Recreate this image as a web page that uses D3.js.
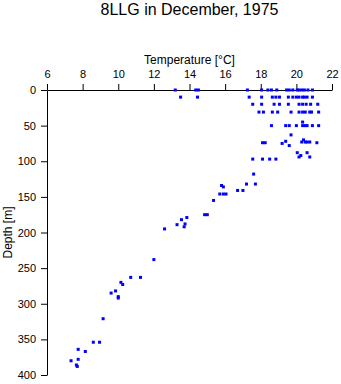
<!DOCTYPE html>
<html><head><meta charset="utf-8">
<script src="https://cdn.jsdelivr.net/npm/d3@7"></script>
<style>
html,body{margin:0;padding:0;background:#fff;}
svg{display:block;font-family:"Liberation Sans",Arial,Helvetica,sans-serif;}
</style></head>
<body>
<svg id="chart" width="341" height="384"></svg>
<script>
const temperature = [
  13.2,14.35,14.5,17.25,18.05,18.4,18.6,18.9,19.45,19.6,19.8,20.05,20.15,20.3,20.45,20.65,20.9,
  13.5,14.45,17.35,18.05,18.65,18.85,19.05,19.55,19.8,20.0,20.15,20.35,20.45,20.6,20.9,
  17.55,18.05,18.75,19.05,19.55,20.15,20.35,20.55,20.8,21.2,
  17.9,18.15,18.65,18.95,19.7,20.15,20.35,20.5,20.75,20.85,21.25,
  18.6,19.4,19.6,20.0,20.35,20.5,20.6,20.9,21.25,
  20.35,19.7,
  18.1,18.25,19.2,19.4,19.6,20.3,20.4,20.5,20.6,20.75,21.15,
  20.05,20.25,20.15,20.6,20.75,
  17.55,18.1,18.5,18.85,
  17.6,17.2,17.7,16.7,17.0,15.8,15.9,15.7,15.9,16.05,15.35,14.85,15.0,
  13.85,13.55,13.75,13.7,13.3,12.6,12.0,10.7,11.25,10.15,10.25,9.85,9.6,10.0,10.0,
  9.15,8.6,8.95,7.75,8.15,7.35,7.75,7.65,7.7
];
const depth = [
  0,0,0,0,0,0,0,0,0,0,0,0,0,0,0,0,0,
  10,10,10,10,10,10,10,10,10,10,10,10,10,10,10,
  20,20,20,20,20,20,20,20,20,20,
  31,31,31,31,31,31,31,31,31,31,31,
  50,50,50,50,50,50,50,50,50,
  45,63,
  74,74,75,72,78,73,70,73,73,73,74,
  88,92,94,88,94,
  97,97,97,97,
  118,132,132,141,141,134,136,146,146,146,155,175,175,
  179,182,188,192,189,195,238,263,263,270,273,282,285,290,292,
  321,354,354,364,367,380,378,386,388
];
const tempTicks = [6,8,10,12,14,16,18,20,22];
const depthTicks = [0,50,100,150,200,250,300,350,400];
const title = "8LLG in December, 1975";
const xLabel = "Temperature [°C]";
const yLabel = "Depth [m]";

const svg = d3.select("#chart");
const x = d3.scaleLinear().domain([6,22]).range([47,332]);
const y = d3.scaleLinear().domain([0,400]).range([90,375]);

svg.append("text").attr("x",(47+332)/2).attr("y",15)
  .attr("text-anchor","middle").attr("font-size",16).text(title);

const xa = svg.append("g").attr("transform",`translate(0,${y(0)})`)
  .call(d3.axisTop(x).tickValues(tempTicks).tickFormat(d3.format("d"))
        .tickSize(6).tickSizeOuter(0).tickPadding(6));
const ya = svg.append("g").attr("transform",`translate(${x(6)},0)`)
  .call(d3.axisLeft(y).tickValues(depthTicks).tickFormat(d3.format("d"))
        .tickSize(6).tickSizeOuter(0).tickPadding(5));
[xa,ya].forEach(g=>{
  g.attr("font-family",null).attr("font-size",11);
  g.selectAll("text").attr("fill","#000");
  g.selectAll("line,path").attr("stroke","#000");
});

svg.append("text").attr("x",(47+332)/2).attr("y",64)
  .attr("text-anchor","middle").attr("font-size",12).text(xLabel);
svg.append("text").attr("transform",`translate(12,${(90+375)/2}) rotate(-90)`)
  .attr("text-anchor","middle").attr("font-size",12).text(yLabel);

svg.append("g").selectAll("rect").data(d3.range(temperature.length)).join("rect")
  .attr("x",i=>x(temperature[i])-1.5)
  .attr("y",i=>y(depth[i])-1.5)
  .attr("width",3).attr("height",3)
  .attr("fill","#0000ff");
</script>
</body></html>
